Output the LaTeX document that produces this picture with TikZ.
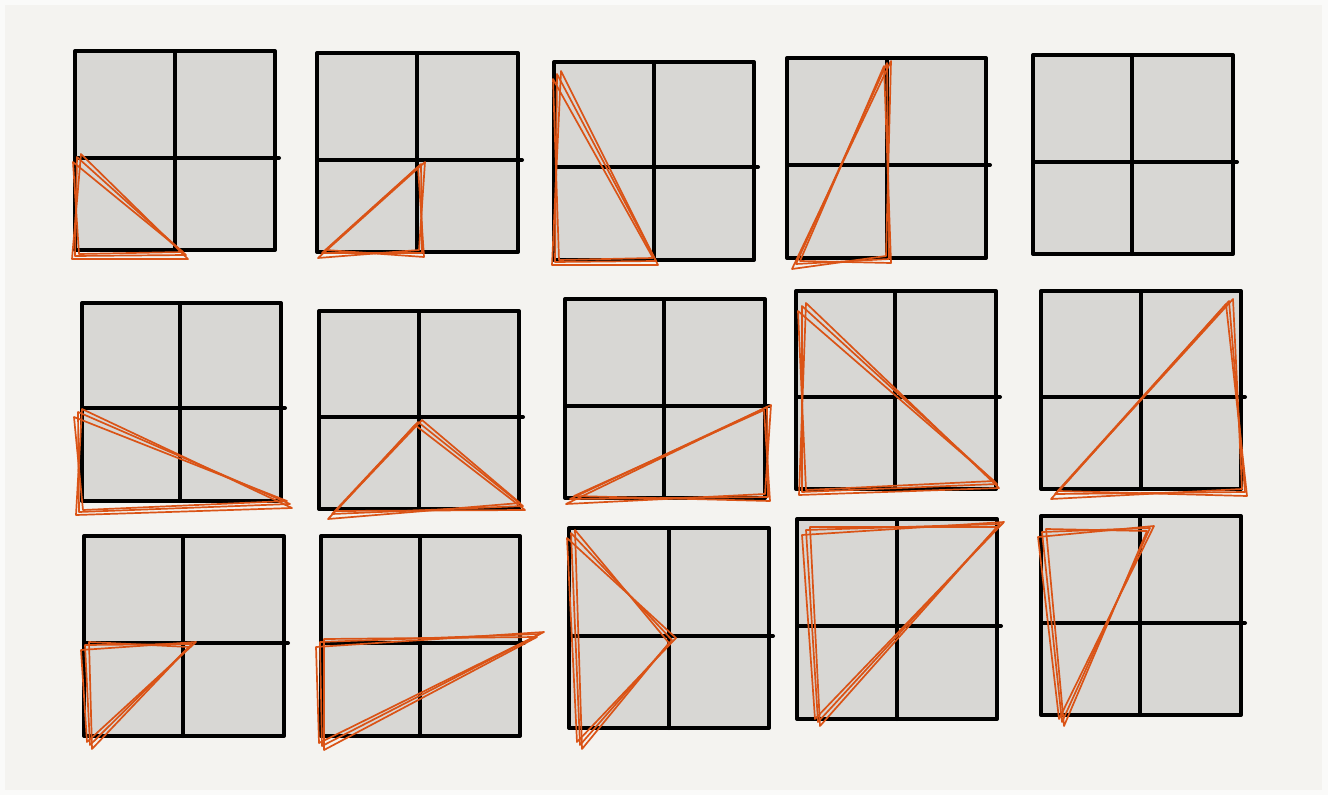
\documentclass[tikz,border=0pt]{standalone}
\usepackage{tikz}
\definecolor{pagebg}{HTML}{F4F3F0}
\definecolor{edgebg}{HTML}{FAFAF9}
\definecolor{cellgray}{HTML}{D8D7D4}
\definecolor{penorange}{HTML}{DA5316}
\tikzset{cell/.style={fill=cellgray},
	rule/.style={line width=4pt,draw=black,line join=round,line cap=round},
	pen/.style={line width=1.7pt,draw=penorange,line join=round,line cap=round}}

\begin{document}
\begin{tikzpicture}[x=1pt,y=-1pt]
	   	\useasboundingbox (0,0) rectangle (1328,795);
	   	\fill[edgebg] (0,0) rectangle (1328,795);
	   	\fill[pagebg] (5,5) rectangle (1322,790);
	   	\foreach \l/\t/\r/\b/\mx/\my in {75/51/275/250/175/158,317/53/518/252/417/160,554/62/754/260/654/167,787/58/986/258/887/165,1033/55/1233/254/1132/162,
	   		82/303/281/501/180/408,319/311/519/509/419/417,565/299/765/498/664/406,796/291/996/489/895/397,1041/291/1241/489/1141/397,
	   		84/536/284/736/183/643,321/536/520/736/420/643,569/528/769/728/669/636,797/519/997/719/897/626,1041/516/1241/715/1140/623}{
	   			\fill[cell] (\l,\t) rectangle (\r,\b);
	   			\draw[rule] (\l,\my)--(\r+4,\my);
	   			\draw[rule] (\mx,\t)--(\mx,\b);
	   			\draw[rule] (\l,\t) rectangle (\r,\b);
	   	}
	   	\foreach \ax/\ay/\bx/\by/\cx/\cy in {77/157/75/256/186/255,322/253/421/164/422/253,557/74/555/262/656/261,796/264/887/63/889/259,
	   		78/412/79/512/290/504,332/514/418/422/523/506,570/499/767/407/768/497,802/306/802/492/997/484,1055/494/1229/301/1245/492,
	   		85/645/192/644/90/745,320/642/540/634/322/746,571/533/672/640/580/745,806/530/1000/524/818/722,1042/532/1150/528/1062/722}{
	   			\foreach \ja/\jb/\jc/\jd/\je/\jf in {0/0/0/0/0/0,4/-3/-3/3/2/4,-4/5/4/-2/-3/-3}{
	   				\draw[pen] (\ax+\ja,\ay+\jb)--(\bx+\jc,\by+\jd)--(\cx+\je,\cy+\jf)--cycle;
	   			}
	   	}
	   \end{tikzpicture}
\end{document}
